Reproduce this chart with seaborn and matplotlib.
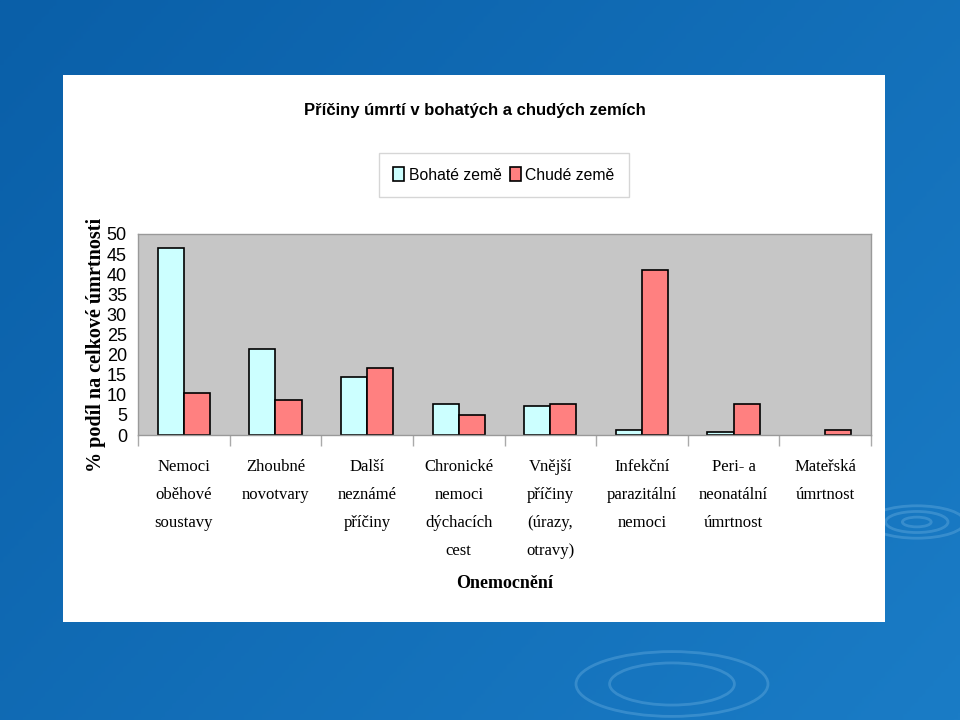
import numpy as np
import pandas as pd
import matplotlib
matplotlib.use("Agg")
import matplotlib.pyplot as plt
import seaborn as sns
from matplotlib.patches import Rectangle, Ellipse
from matplotlib.colors import LinearSegmentedColormap

categories = ["Nemoci\noběhové\nsoustavy", "Zhoubné\nnovotvary", "Další\nneznámé\npříčiny",
              "Chronické\nnemoci\ndýchacích\ncest", "Vnější\npříčiny\n(úrazy,\notravy)",
              "Infekční\nparazitální\nnemoci", "Peri- a\nneonatální\númrtnost", "Mateřská\númrtnost"]
rich = [46.5, 21.4, 14.5, 7.7, 7.3, 1.3, 0.8, 0.0]
poor = [10.4, 8.6, 16.7, 5.0, 7.7, 41.0, 7.7, 1.2]
series = ["Bohaté země", "Chudé země"]
colors = ["#ccffff", "#ff8080"]

df = pd.DataFrame({
    "cat": categories * 2,
    "val": rich + poor,
    "série": [series[0]] * len(categories) + [series[1]] * len(categories),
})

sns.set_theme(style="white")
plt.rcParams["font.family"] = ["Liberation Sans", "DejaVu Sans"]
plt.rcParams["text.color"] = "black"
plt.rcParams["axes.labelcolor"] = "black"
plt.rcParams["xtick.color"] = "black"
plt.rcParams["ytick.color"] = "black"

fig = plt.figure(figsize=(9.6, 7.2), dpi=100)

# background gradient (slide)
bg = fig.add_axes([0, 0, 1, 1], zorder=-10)
grad = np.linspace(0, 1, 256).reshape(1, -1)
grad2 = np.linspace(0, 1, 256).reshape(-1, 1)
img = 0.6 * grad + 0.4 * grad2
cmap = LinearSegmentedColormap.from_list("b", ["#0a5fa8", "#1a7cc6"])
bg.imshow(img, aspect="auto", cmap=cmap, extent=[0, 1, 0, 1])
for cx, cy, w in [(0.955, 0.275, 0.10), (0.955, 0.275, 0.065), (0.955, 0.275, 0.03),
                  (0.70, 0.05, 0.20), (0.70, 0.05, 0.13)]:
    bg.add_patch(Ellipse((cx, cy), w, w * 0.45, fill=False, ec="#5fa8dc", lw=2, alpha=0.45))
bg.set_xlim(0, 1); bg.set_ylim(0, 1)
bg.axis("off")
bg.add_patch(Rectangle((63 / 960, 1 - 622 / 720), (885 - 63) / 960, (622 - 75) / 720,
                       facecolor="white", edgecolor="none", zorder=5))

ax = fig.add_axes([138 / 960, 1 - 435 / 720, (871 - 138) / 960, (435 - 234) / 720])
sns.barplot(data=df, x="cat", y="val", hue="série", palette=colors, ax=ax,
            width=0.57, gap=0, edgecolor="black", linewidth=1.2, saturation=1, legend=True)
ax.set_facecolor("#c6c6c6")
ax.set_ylim(0, 50)
ax.set_xlim(-0.5, len(categories) - 0.5)
ax.set_yticks(range(0, 51, 5))
ax.tick_params(axis="y", labelsize=13, length=0, pad=8)
ax.set_xticks(range(len(categories)))
ax.set_xticklabels(categories, fontsize=12, linespacing=2.0, fontfamily=["Liberation Serif"])
ax.set_xticks(np.arange(-0.5, len(categories), 1.0), minor=True)
ax.tick_params(axis="x", which="major", length=0, pad=17)
ax.tick_params(axis="x", which="minor", length=8, color="#aaaaaa", width=1, bottom=True)
for s in ax.spines.values():
    s.set_color("#999999")
    s.set_linewidth(1)
ax.set_xlabel("Onemocnění", fontsize=13, fontweight="bold", fontfamily=["Liberation Serif"], labelpad=12)
ax.set_ylabel("% podíl na celkové úmrtnosti", fontsize=14.5, fontweight="bold",
              fontfamily=["Liberation Serif"])
ax.yaxis.set_label_coords(-0.043, 0.45)

leg = ax.legend(loc="center", bbox_to_anchor=(504 / 960, 1 - 175 / 720),
                bbox_transform=fig.transFigure, ncol=2, frameon=True,
                prop={"family": ["Liberation Sans"], "size": 11.3},
                handlelength=0.7, handleheight=1.0, handletextpad=0.3, columnspacing=0.5,
                borderpad=0.9, borderaxespad=0, fancybox=False)
leg.get_frame().set_edgecolor("#cccccc")
leg.get_frame().set_linewidth(1)
for h in leg.legend_handles:
    h.set_edgecolor("black")
    h.set_linewidth(1.2)

# hide zero-height bars (no visible mark in the reference)
for p in ax.patches:
    if p.get_height() == 0:
        p.set_linewidth(0)

fig.text(475 / 960, 1 - 110 / 720, "Příčiny úmrtí v bohatých a chudých zemích",
         ha="center", va="center", fontsize=12, fontweight="bold",
         family=["Liberation Sans"], color="black")

fig.savefig("out.png", dpi=100)
